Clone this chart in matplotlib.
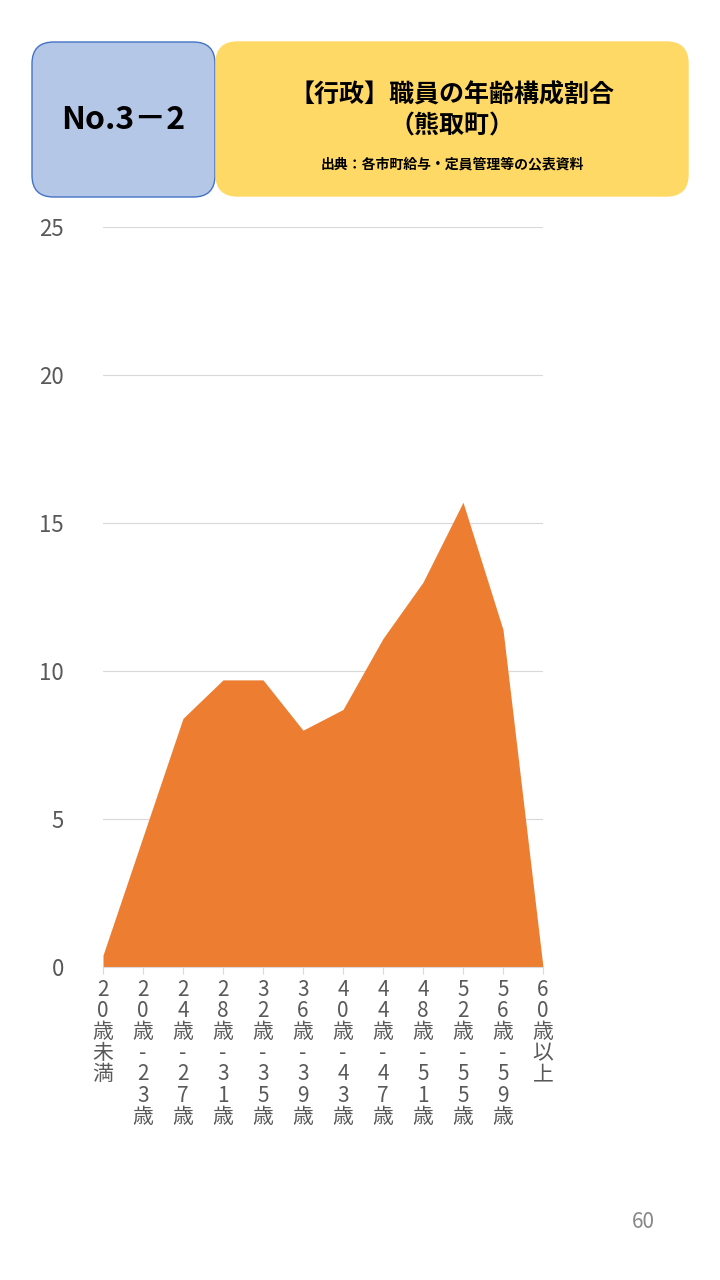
import matplotlib.pyplot as plt
from matplotlib.patches import FancyBboxPatch

plt.rcParams['font.family'] = ['Noto Sans CJK JP', 'DejaVu Sans']

categories = ['20歳未満', '20歳-23歳', '24歳-27歳', '28歳-31歳', '32歳-35歳', '36歳-39歳',
              '40歳-43歳', '44歳-47歳', '48歳-51歳', '52歳-55歳', '56歳-59歳', '60歳以上']
values = [0.4, 4.4, 8.4, 9.7, 9.7, 8.0, 8.7, 11.1, 13.0, 15.7, 11.4, 0.0]

fig = plt.figure(figsize=(7.2, 12.8), dpi=100)

# header boxes
W, H = 720, 1280
def box(x0, y0, x1, y1, fc, ec):
    p = FancyBboxPatch((x0 / W, 1 - y1 / H), (x1 - x0) / W, (y1 - y0) / H,
                       boxstyle="round,pad=0,rounding_size=0.03", fc=fc, ec=ec,
                       transform=fig.transFigure, mutation_aspect=W / H)
    fig.add_artist(p)
box(32, 42, 215, 197, '#b4c7e7', '#4472c4')
box(216, 42, 688, 196, '#ffd966', '#ffd966')
fig.text(123 / W, 1 - 120 / H, 'No.3－2', fontsize=23, fontweight='bold', ha='center', va='center')
fig.text(452 / W, 1 - 95 / H, '【行政】職員の年齢構成割合', fontsize=18, fontweight='bold', ha='center', va='center')
fig.text(452 / W, 1 - 127 / H, '（熊取町）', fontsize=18, fontweight='bold', ha='center', va='center')
fig.text(452 / W, 1 - 164 / H, '出典：各市町給与・定員管理等の公表資料', fontsize=10, fontweight='bold', ha='center', va='center')
fig.text(643 / W, 1 - 1222 / H, '60', fontsize=15, color='#888888', ha='center', va='center')

ax = fig.add_axes([103 / W, 1 - 967 / H, 440 / W, 740 / H])
x = list(range(len(values)))
ax.fill_between(x, values, 0, color='#ed7d31', lw=0)
ax.set_xlim(0, len(values) - 1)
ax.set_ylim(0, 25)
ax.set_yticks([0, 5, 10, 15, 20, 25])
ax.yaxis.grid(True, color='#d9d9d9', lw=0.8)
ax.set_axisbelow(True)
for s in ['top', 'right', 'left']:
    ax.spines[s].set_visible(False)
ax.spines['bottom'].set_color('#d9d9d9')
ax.tick_params(axis='y', length=0, labelsize=16, labelcolor='#595959', pad=28)
ax.set_xticks(x)
ax.set_xticklabels(['\n'.join(c) for c in categories], fontsize=15, color='#595959',
                   linespacing=0.95)
ax.tick_params(axis='x', length=5, color='#d9d9d9')
for lbl in ax.get_xticklabels():
    lbl.set_verticalalignment('top')

fig.savefig('out.png', dpi=100)
